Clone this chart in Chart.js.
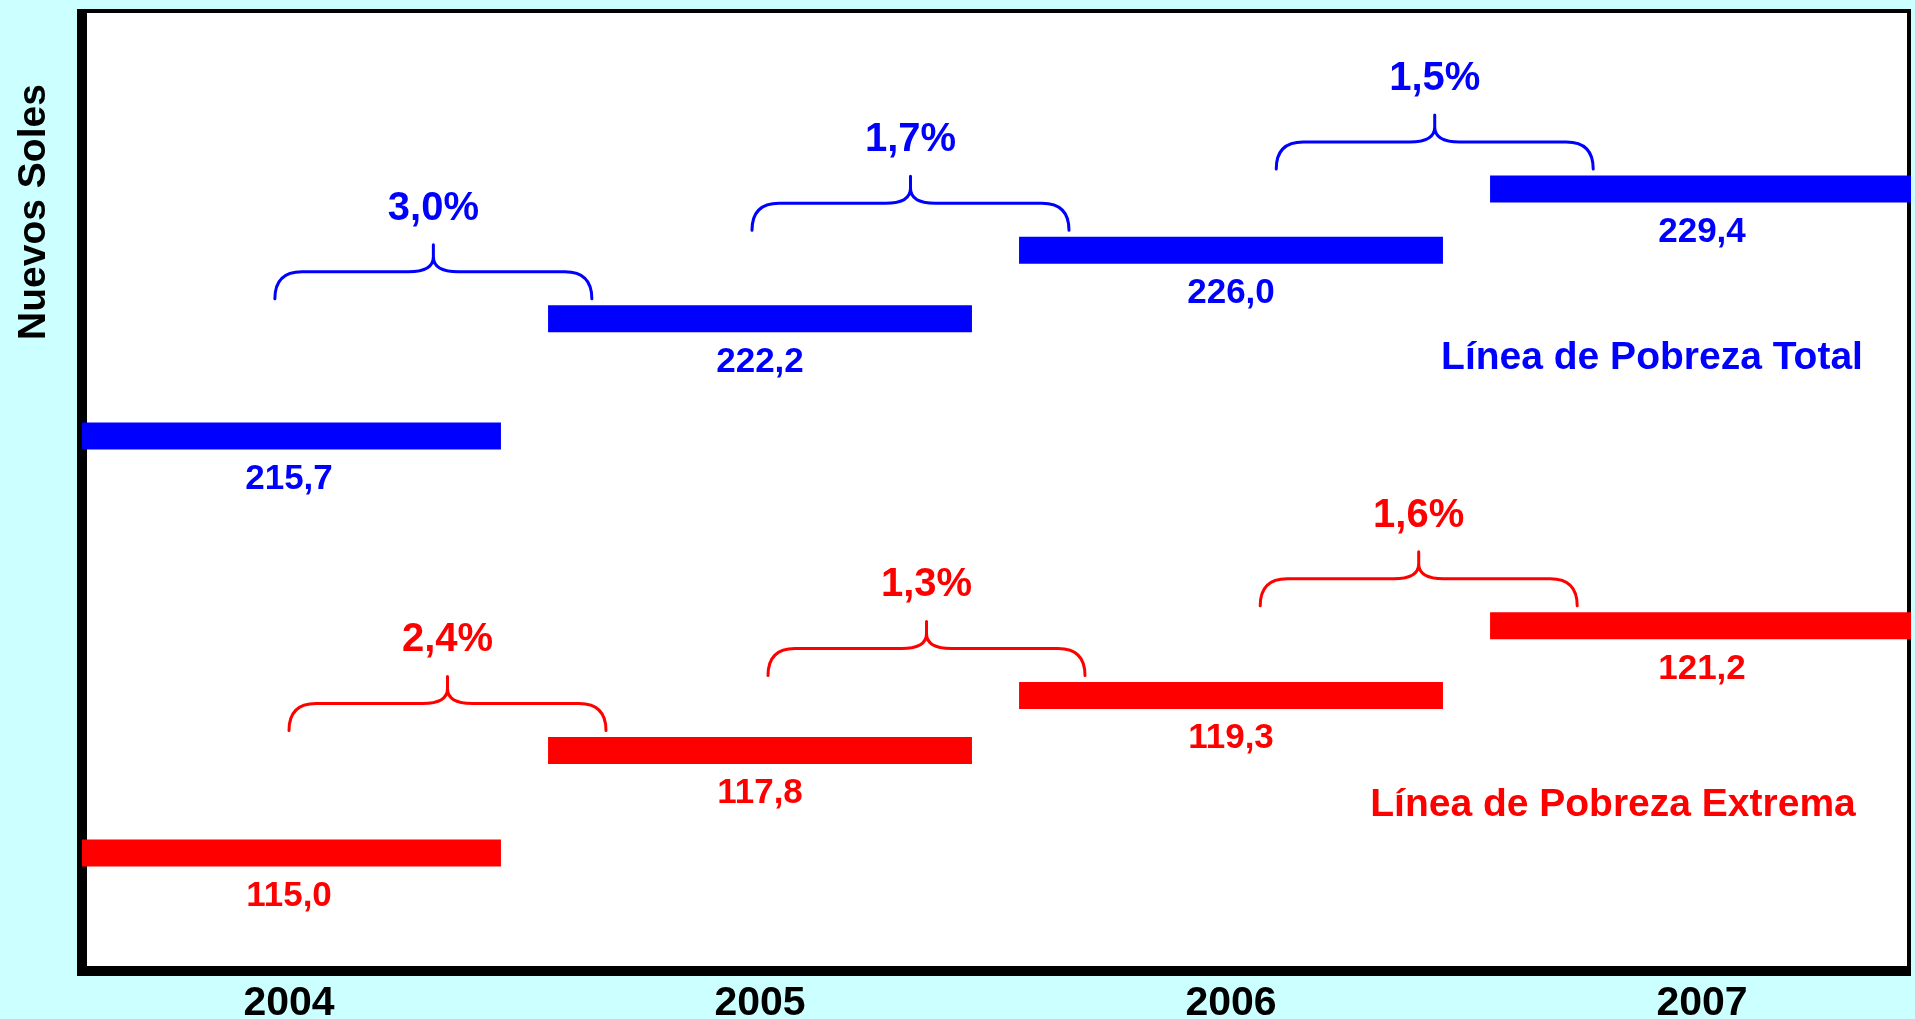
<!DOCTYPE html>
<html>
<head>
<meta charset="utf-8">
<script src="https://cdn.jsdelivr.net/npm/chart.js@4/dist/chart.umd.min.js"></script>
<style>
  html, body { margin: 0; padding: 0; background: #CCFFFF; }
  #wrap { width: 1915px; height: 1019px; position: relative; }
</style>
</head>
<body>
<div id="wrap"><canvas id="c"></canvas></div>
<script>
// ---- data ----
const years = [2004, 2005, 2006, 2007];
const xLabels = ['2004', '2005', '2006', '2007'];
const totalLine = [215.7, 222.2, 226.0, 229.4];
const extremeLine = [115.0, 117.8, 119.3, 121.2];
const totalGrowth = ['3,0%', '1,7%', '1,5%'];
const extremeGrowth = ['2,4%', '1,3%', '1,6%'];
const seriesNames = ['Línea de Pobreza Total', 'Línea de Pobreza Extrema'];
const yTitle = 'Nuevos Soles';

// ---- style ----
const BLUE = '#0000FF', RED = '#FF0000';
const FONT = '"Liberation Sans", Arial, Helvetica, sans-serif';
const HALF = 0.45;          // half length of each level bar (in years)
const BAR_W = 27;
const BRACE_LEN = 0.673;    // brace length (in years)
const braceShiftTotal = [-0.03, -0.017, 0.096];   // hand-placed annotation offsets
const braceShiftExtreme = [0.0, 0.017, 0.062];

function segments(vals) {
  const pts = [];
  years.forEach((yr, i) => {
    pts.push({ x: yr - HALF, y: vals[i] }, { x: yr + HALF, y: vals[i] });
    if (i < years.length - 1) pts.push({ x: yr + 0.5, y: null });
  });
  return pts;
}

const fmt = v => v.toFixed(1).replace('.', ',');

function brace(ctx, x0, x1, yb, yh, yt) {
  const xc = (x0 + x1) / 2;
  ctx.beginPath();
  ctx.moveTo(x0, yb);
  ctx.quadraticCurveTo(x0, yh, x0 + 27, yh);
  ctx.lineTo(xc - 25, yh);
  ctx.quadraticCurveTo(xc, yh, xc, yh - 15);
  ctx.lineTo(xc, yt);
  ctx.moveTo(xc, yh - 15);
  ctx.quadraticCurveTo(xc, yh, xc + 25, yh);
  ctx.lineTo(x1 - 27, yh);
  ctx.quadraticCurveTo(x1, yh, x1, yb);
  ctx.stroke();
}

const deco = {
  id: 'deco',
  beforeDraw(chart) {
    const { ctx, chartArea: ca } = chart;
    ctx.save();
    ctx.fillStyle = '#CCFFFF';
    ctx.fillRect(0, 0, chart.width, chart.height);
    ctx.fillStyle = '#FFFFFF';
    ctx.fillRect(ca.left - 5, ca.top - 4, ca.right - ca.left + 5, ca.bottom - ca.top + 14);
    ctx.restore();
  },
  beforeDatasetsDraw(chart) {
    const { ctx, chartArea: ca } = chart;
    ctx.save();
    ctx.fillStyle = '#000000';
    ctx.fillRect(ca.left - 5, ca.top - 4, ca.right - ca.left + 5, 4);      // top
    ctx.fillRect(ca.right - 4, ca.top - 4, 4, ca.bottom - ca.top + 14);     // right
    ctx.fillRect(ca.left - 5, ca.top - 4, 10, ca.bottom - ca.top + 14);     // left
    ctx.fillRect(ca.left - 5, ca.bottom, ca.right - ca.left + 5, 10);       // bottom
    ctx.restore();
  },
  afterDatasetsDraw(chart) {
    const { ctx } = chart;
    const xs = chart.scales.x;
    ctx.save();

    // x tick labels
    ctx.fillStyle = '#000000';
    ctx.font = 'bold 41px ' + FONT;
    ctx.textAlign = 'center';
    ctx.textBaseline = 'alphabetic';
    years.forEach((yr, i) => ctx.fillText(xLabels[i], xs.getPixelForValue(yr), 1015));

    // y title
    ctx.save();
    ctx.translate(45, 212);
    ctx.rotate(-Math.PI / 2);
    ctx.font = 'bold 39px ' + FONT;
    ctx.fillText(yTitle, 0, 0);
    ctx.restore();

    const series = [
      { vals: totalLine, pct: totalGrowth, shift: braceShiftTotal, color: BLUE, scale: chart.scales.yT },
      { vals: extremeLine, pct: extremeGrowth, shift: braceShiftExtreme, color: RED, scale: chart.scales.yE }
    ];
    series.forEach(s => {
      ctx.fillStyle = s.color;
      ctx.strokeStyle = s.color;
      // value labels
      ctx.font = 'bold 35px ' + FONT;
      s.vals.forEach((v, i) => {
        ctx.fillText(fmt(v), xs.getPixelForValue(years[i]), s.scale.getPixelForValue(v) + 53);
      });
      // braces and growth rates
      ctx.lineWidth = 3;
      ctx.lineCap = 'round';
      ctx.font = 'bold 40px ' + FONT;
      s.pct.forEach((p, i) => {
        const x0 = xs.getPixelForValue(years[i] + s.shift[i]);
        const x1 = xs.getPixelForValue(years[i] + s.shift[i] + BRACE_LEN);
        const yc = s.scale.getPixelForValue(s.vals[i + 1]);
        brace(ctx, x0, x1, yc - 20, yc - 47, yc - 74);
        ctx.fillText(p, (x0 + x1) / 2, yc - 99);
      });
    });

    // series names
    ctx.font = 'bold 39px ' + FONT;
    ctx.fillStyle = BLUE;
    ctx.fillText(seriesNames[0], 1652, 369);
    ctx.fillStyle = RED;
    ctx.fillText(seriesNames[1], 1613, 816);
    ctx.restore();
  }
};

new Chart(document.getElementById('c'), {
  type: 'line',
  data: {
    datasets: [
      { label: seriesNames[0], data: segments(totalLine), yAxisID: 'yT',
        borderColor: BLUE, borderWidth: BAR_W, borderCapStyle: 'butt',
        pointRadius: 0, spanGaps: false, tension: 0, clip: 0 },
      { label: seriesNames[1], data: segments(extremeLine), yAxisID: 'yE',
        borderColor: RED, borderWidth: BAR_W, borderCapStyle: 'butt',
        pointRadius: 0, spanGaps: false, tension: 0, clip: 0 }
    ]
  },
  options: {
    responsive: true,
    maintainAspectRatio: false,
    animation: false,
    layout: { padding: { left: 82, right: 4, top: 13, bottom: 53 } },
    plugins: { legend: { display: false }, tooltip: { enabled: false } },
    scales: {
      x: { type: 'linear', display: false, min: 2003.5605, max: 2007.4437 },
      yT: { type: 'linear', display: false, min: 186.3, max: 239.16 },
      yE: { type: 'linear', display: false, min: 111.915, max: 137.93 }
    }
  },
  plugins: [deco]
});
</script>
</body>
</html>
